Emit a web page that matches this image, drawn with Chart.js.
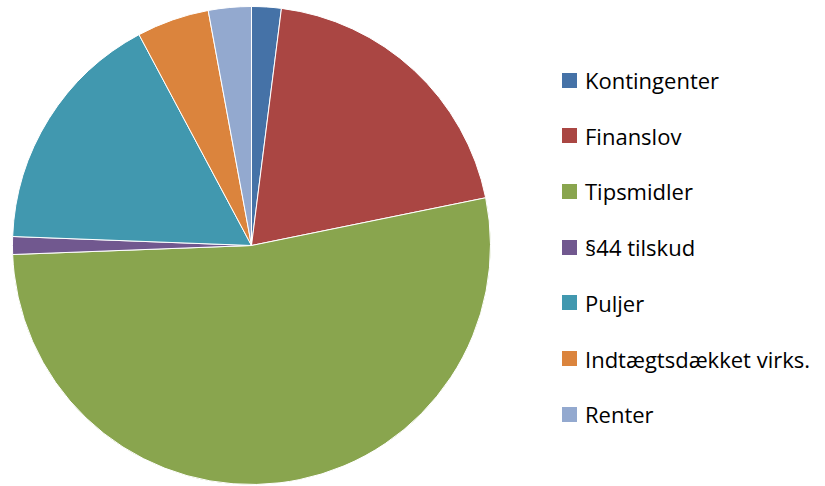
<!DOCTYPE html>
<html>
<head>
<meta charset="utf-8">
<script src="https://cdn.jsdelivr.net/npm/chart.js@4"></script>
<style>
  body { margin: 0; background: #fff; width: 825px; height: 486px; position: relative; overflow: hidden; }
  #wrap { position: absolute; left: 12px; top: 6px; width: 479px; height: 479px; }
  #legend { position: absolute; left: 562px; top: 0; font-family: "Open Sans", sans-serif; font-size: 22px; color: #000; }
  .item { position: absolute; left: 0; white-space: nowrap; display: flex; align-items: center; height: 30px; }
  .box { width: 15px; height: 15px; margin-right: 8px; }
</style>
</head>
<body>
<div id="wrap"><canvas id="pie"></canvas></div>
<div id="legend"></div>
<script>
const categories = ['Kontingenter', 'Finanslov', 'Tipsmidler', '§44 tilskud', 'Puljer', 'Indtægtsdækket virks.', 'Renter'];
const shares = [2.0, 19.8, 52.6, 1.2, 16.6, 4.9, 2.9];
const colors = ['#4572A7', '#AA4643', '#89A54E', '#71588F', '#4198AF', '#DB843D', '#93A9CF'];

new Chart(document.getElementById('pie'), {
  type: 'pie',
  data: {
    labels: categories,
    datasets: [{
      data: shares,
      backgroundColor: colors,
      borderColor: '#ffffff',
      borderWidth: 1
    }]
  },
  options: {
    responsive: true,
    maintainAspectRatio: false,
    animation: false,
    layout: { padding: 0 },
    plugins: {
      legend: { display: false },
      tooltip: { enabled: false }
    }
  }
});

// legend on the right, one row per category
const legend = document.getElementById('legend');
categories.forEach((name, i) => {
  const row = document.createElement('div');
  row.className = 'item';
  row.style.top = (65 + i * 55.7) + 'px';
  row.innerHTML = '<span class="box" style="background:' + colors[i] + '"></span><span>' + name + '</span>';
  legend.appendChild(row);
});
</script>
</body>
</html>
